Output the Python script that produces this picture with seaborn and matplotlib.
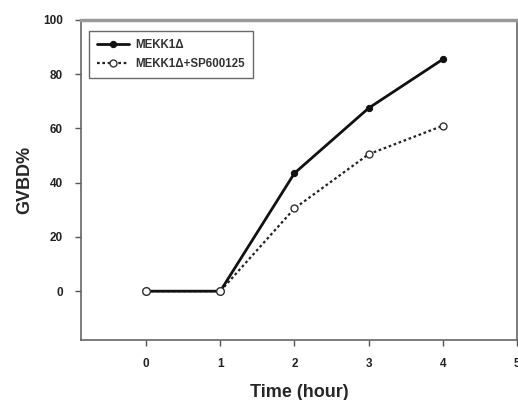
import matplotlib
matplotlib.use("Agg")
import matplotlib.pyplot as plt
import seaborn as sns
import pandas as pd

time_hours = [0, 1, 2, 3, 4]
mekk1 = [0, 0, 43.5, 67.5, 85.5]
mekk1_sp = [0, 0, 30.5, 50.5, 61]
series_names = ["MEKK1\u0394", "MEKK1\u0394+SP600125"]
x_ticks = [0, 1, 2, 3, 4, 5]
y_ticks = [0, 20, 40, 60, 80, 100]

sns.set_style("ticks")
plt.rcParams['font.family'] = ['Liberation Sans', 'DejaVu Sans']
plt.rcParams['font.weight'] = 'bold'

df = pd.DataFrame({
    "Time": time_hours * 2,
    "GVBD": mekk1 + mekk1_sp,
    "Group": [series_names[0]] * len(time_hours) + [series_names[1]] * len(time_hours),
})

fig = plt.figure(figsize=(5.18, 4.0), dpi=100)
ax = fig.add_axes([0.156, 0.15, 0.842, 0.80])

sns.lineplot(data=df[df.Group == series_names[1]], x="Time", y="GVBD", ax=ax,
             color="#222222", linestyle=(0, (1.2, 1.2)), linewidth=1.6,
             marker="o", markersize=5, markerfacecolor="white",
             markeredgecolor="#333333", markeredgewidth=1.0, label=series_names[1], zorder=2)
sns.lineplot(data=df[df.Group == series_names[0]], x="Time", y="GVBD", ax=ax,
             color="#111111", linestyle="-", linewidth=2.0,
             marker="o", markersize=4.5, markerfacecolor="#111111",
             markeredgecolor="#111111", label=series_names[0], zorder=3)
# open markers at 0 and 1 are drawn on top (they appear open in the reference)
ax.plot(time_hours[:2], mekk1_sp[:2], linestyle="none", marker="o", markersize=5.5,
        markerfacecolor="white", markeredgecolor="#333333", markeredgewidth=1.0, zorder=4)

ax.set_xlim(-0.88, 5)
ax.set_ylim(-18, 100)
ax.set_xticks(x_ticks)
ax.set_yticks(y_ticks)
ax.tick_params(axis="both", direction="out", length=4, width=1, labelsize=8.5, color="#555555")
ax.tick_params(axis="x", pad=9)
ax.tick_params(axis="y", pad=9)
for lbl in ax.get_xticklabels() + ax.get_yticklabels():
    lbl.set_fontweight("bold")
    lbl.set_color("#222222")

ax.set_xlabel("Time (hour)", fontsize=13, fontweight="bold", labelpad=10)
ax.set_ylabel("GVBD%", fontsize=13, fontweight="bold", labelpad=7)

for side in ["left", "bottom", "top", "right"]:
    ax.spines[side].set_visible(True)
    ax.spines[side].set_color("#666666")
    ax.spines[side].set_linewidth(1.2)
ax.spines["top"].set_color("#999999")
ax.spines["top"].set_linewidth(2.5)

handles, labels = ax.get_legend_handles_labels()
order = [labels.index(series_names[0]), labels.index(series_names[1])]
leg = ax.legend([handles[i] for i in order], [labels[i] for i in order],
                loc="upper left", bbox_to_anchor=(0.005, 0.985), fontsize=8.3,
                frameon=True, fancybox=False, edgecolor="#444444",
                handlelength=2.8, handletextpad=0.5, borderpad=0.7, labelspacing=0.6)
leg.get_frame().set_linewidth(1.0)
for t in leg.get_texts():
    t.set_fontweight("bold")
    t.set_color("#333333")

fig.savefig("out.png", dpi=100)
